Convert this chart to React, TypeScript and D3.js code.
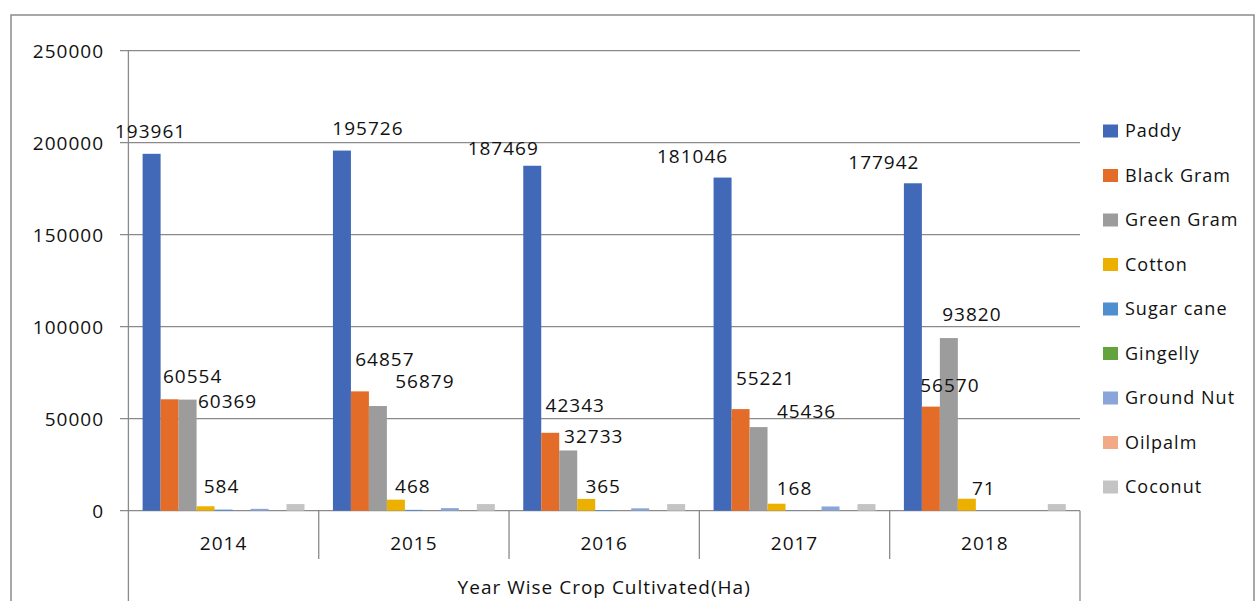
import React from "react";
import * as d3 from "d3";

const years = ["2014", "2015", "2016", "2017", "2018"];
const seriesNames = ["Paddy", "Black Gram", "Green Gram", "Cotton", "Sugar cane", "Gingelly", "Ground Nut", "Oilpalm", "Coconut"];
const paddy = [193961, 195726, 187469, 181046, 177942];
const blackGram = [60554, 64857, 42343, 55221, 56570];
const greenGram = [60369, 56879, 32733, 45436, 93820];
const cotton = [2400, 6000, 6400, 3800, 6500];
const sugarCane = [584, 468, 365, 168, 71];
const gingelly = [0, 0, 0, 0, 0];
const groundNut = [1000, 1400, 1300, 2300, 0];
const oilpalm = [0, 0, 0, 0, 0];
const coconut = [3600, 3600, 3600, 3600, 3600];
const yTicks = [0, 50000, 100000, 150000, 200000, 250000];
const axisTitle = "Year Wise Crop Cultivated(Ha)";

const seriesValues = [paddy, blackGram, greenGram, cotton, sugarCane, gingelly, groundNut, oilpalm, coconut];
const colors = ["#4169B8", "#E36C29", "#9C9C9C", "#EBB000", "#4F8FD0", "#62A33E", "#8AA6D8", "#F2AA86", "#C4C4C4"];

// which series carry data labels, and the manual label offsets (dx, dy from bar top centre)
const labelledSeries = [0, 1, 2, 4];
const labelOffsets: Record<number, [number, number][]> = {
  0: [[-1, -16], [26, -16], [-29, -11], [-30, -15], [-29, -14]],
  1: [[23, -16], [25, -25], [25, -21], [25, -24], [19, -15]],
  2: [[40, 8], [47, -18], [25.5, -7.5], [48, -9], [23, -17]],
  4: [[-2, -17], [-1, -17], [-1, -17], [0, -15], [-1, -16]],
};

const FONT = "'Open Sans', 'DejaVu Sans', sans-serif";

export default function App() {
  const left = 128.4;
  const right = 1080;
  const y0 = 510.7;
  const yTop = 50.7;
  const x0 = d3.scaleBand<string>().domain(years).range([left, right]).paddingInner(0).paddingOuter(0);
  const x1 = d3.scaleBand<string>().domain(seriesNames).range([0, x0.bandwidth()]).paddingInner(0).paddingOuter(0.79);
  const y = d3.scaleLinear().domain([0, 250000]).range([y0, yTop]);
  const axisColor = "#8A8A8A";
  const textStyle: React.CSSProperties = { fontFamily: FONT, fontSize: 19, letterSpacing: 1, fill: "#111" };

  return (
    <svg width={1259} height={601} style={{ position: "absolute", left: 0, top: 0, background: "#fff" }}>
      <rect x={0} y={0} width={1259} height={601} fill="#fff" />
      {/* outer chart border */}
      <rect x={11} y={15} width={1243} height={620} fill="none" stroke="#8C8C8C" strokeWidth={1.5} />
      {/* gridlines + y ticks */}
      {yTicks.map((t) => (
        <g key={t}>
          <line x1={120} x2={right} y1={y(t)} y2={y(t)} stroke={axisColor} strokeWidth={1.3} />
          <text x={104} y={y(t)} dy="0.4em" textAnchor="end" style={textStyle}>{t}</text>
        </g>
      ))}
      {/* y axis line extending into multi-level category area */}
      <line x1={left} x2={left} y1={yTop} y2={601} stroke={axisColor} strokeWidth={1.3} />
      <line x1={right} x2={right} y1={y0} y2={601} stroke={axisColor} strokeWidth={1.3} />
      {years.slice(1).map((yr) => (
        <line key={yr} x1={x0(yr)!} x2={x0(yr)!} y1={y0} y2={559} stroke={axisColor} strokeWidth={1.3} />
      ))}
      {/* bars */}
      {years.map((yr, i) => (
        <g key={yr} transform={`translate(${x0(yr)},0)`}>
          {seriesNames.map((s, k) => {
            const v = seriesValues[k][i];
            if (v <= 0) return null;
            return <rect key={s} x={x1(s)!} y={y(v)} width={x1.bandwidth()} height={y0 - y(v)} fill={colors[k]} />;
          })}
        </g>
      ))}
      {/* data labels */}
      {labelledSeries.map((k) =>
        years.map((yr, i) => {
          const v = seriesValues[k][i];
          const cx = x0(yr)! + x1(seriesNames[k])! + x1.bandwidth() / 2;
          const [dx, dy] = labelOffsets[k][i];
          return (
            <text key={`${k}-${yr}`} x={cx + dx} y={y(v) + dy} textAnchor="middle" style={textStyle}>{v}</text>
          );
        })
      )}
      {/* category labels */}
      {years.map((yr) => (
        <text key={yr} x={x0(yr)! + x0.bandwidth() / 2} y={550} textAnchor="middle" style={textStyle}>{yr}</text>
      ))}
      <text x={(left + right) / 2} y={594} textAnchor="middle" style={textStyle}>{axisTitle}</text>
      {/* legend */}
      {seriesNames.map((s, k) => {
        const cy = 131 + k * 44.5;
        return (
          <g key={s}>
            <rect x={1103} y={cy - 6.5} width={15} height={13} fill={colors[k]} />
            <text x={1125} y={cy} dy="0.36em" style={{ ...textStyle, fontSize: 18 }}>{s}</text>
          </g>
        );
      })}
    </svg>
  );
}
